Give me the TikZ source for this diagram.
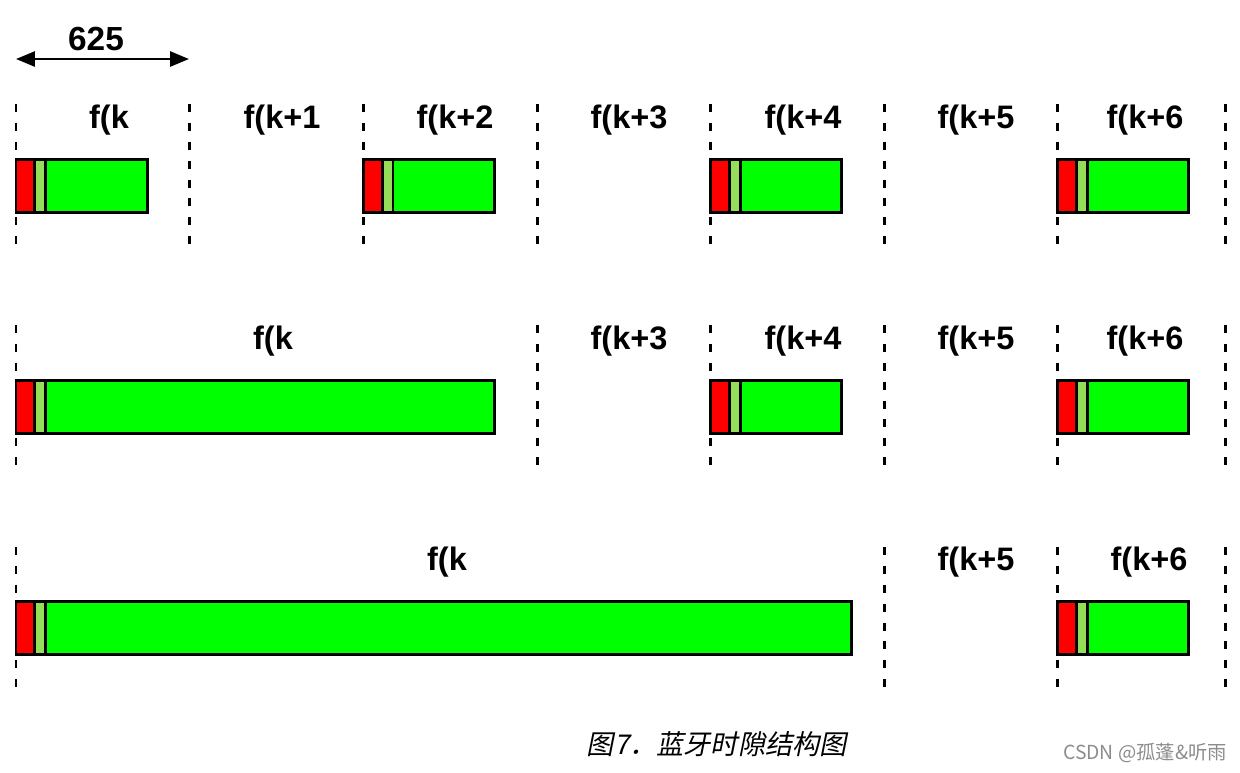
\documentclass[tikz,border=0pt]{standalone}
\usepackage{fontspec}
\setmainfont{Liberation Sans}
\newfontfamily\cjk[FakeSlant=0.2]{Noto Sans CJK SC}
\newfontfamily\cjkup{Noto Sans CJK SC}
\usetikzlibrary{arrows.meta,positioning}
\definecolor{hdrred}{RGB}{255,0,0}
\definecolor{accgreen}{RGB}{150,222,90}
\definecolor{paygreen}{RGB}{0,255,0}

\begin{document}
\begin{tikzpicture}[
    x=0.02cm, y=-0.02cm,
    slot/.style={dash pattern=on 0.16cm off 0.218cm, line width=0.06cm},
    hdr/.style={draw, line width=0.06cm, fill=hdrred, minimum width=0.38cm, minimum height=1.06cm, inner sep=0pt, outer sep=0pt, anchor=west},
    acc/.style={draw, line width=0.06cm, fill=accgreen, minimum width=0.22cm, minimum height=1.06cm, inner sep=0pt, outer sep=0pt, anchor=west},
    pay/.style={draw, line width=0.06cm, fill=paygreen, minimum height=1.06cm, inner sep=0pt, outer sep=0pt, anchor=west},
    lbl/.style={font=\fontsize{18.5}{22}\selectfont\bfseries, inner sep=0pt},
    dim/.style={{Triangle[length=0.38cm,width=0.3cm]}-{Triangle[length=0.38cm,width=0.3cm]}, line width=0.055cm}
]
\useasboundingbox (0,0) rectangle (1240,772);

% slot length
\coordinate (dl) at (16,59);
\coordinate (dr) at (189,59);
\draw[dim] (dl) -- (dr);
\node[lbl, font=\fontsize{19}{22}\selectfont\bfseries] (len) at (96,39) {625};

% slot borders
\foreach \x in {16,189,363,537,710,884,1057,1225}
  \draw[slot] (\x,104) -- (\x,245);
\foreach \x in {16,537,710,884,1057,1225}
  \draw[slot] (\x,325) -- (\x,466);
\foreach \x in {16,884,1057,1225}
  \draw[slot] (\x,547) -- (\x,688);

% hop frequencies
\node[lbl] (f10) at (109,120) {f(k};
\node[lbl] (f11) at (282,120) {f(k+1};
\node[lbl] (f12) at (455,120) {f(k+2};
\node[lbl] (f13) at (629,120) {f(k+3};
\node[lbl] (f14) at (803,120) {f(k+4};
\node[lbl] (f15) at (976,120) {f(k+5};
\node[lbl] (f16) at (1145,120) {f(k+6};

\node[lbl] (f20) at (273,341) {f(k};
\node[lbl] (f23) at (629,341) {f(k+3};
\node[lbl] (f24) at (803,341) {f(k+4};
\node[lbl] (f25) at (976,341) {f(k+5};
\node[lbl] (f26) at (1145,341) {f(k+6};

\node[lbl] (f30) at (447,562) {f(k};
\node[lbl] (f35) at (976,562) {f(k+5};
\node[lbl] (f36) at (1149,562) {f(k+6};

% packets
\foreach \n/\x/\y/\w in {p10/16/186/2.04, p12/363/186/2.04, p14/710/186/2.04, p16/1057/186/2.04,
                         p20/16/407/8.98, p24/710/407/2.04, p26/1057/407/2.04,
                         p30/16/628/16.12, p36/1057/628/2.04} {
  \node[hdr] (\n h) at (\x,\y) {};
  \node[acc] (\n a) at (\n h.east) {};
  \node[pay, minimum width=\w cm] (\n p) at (\n a.east) {};
}

% caption
\node[font=\cjk\fontsize{15.5}{18}\selectfont, inner sep=0pt] (cap) at (717,744) {图7．蓝牙时隙结构图};
\node[font=\cjkup\fontsize{11}{13}\selectfont, text=black!45, inner sep=0pt] (wm) at (1145,753) {CSDN @孤蓬\&听雨};
\end{tikzpicture}
\end{document}
